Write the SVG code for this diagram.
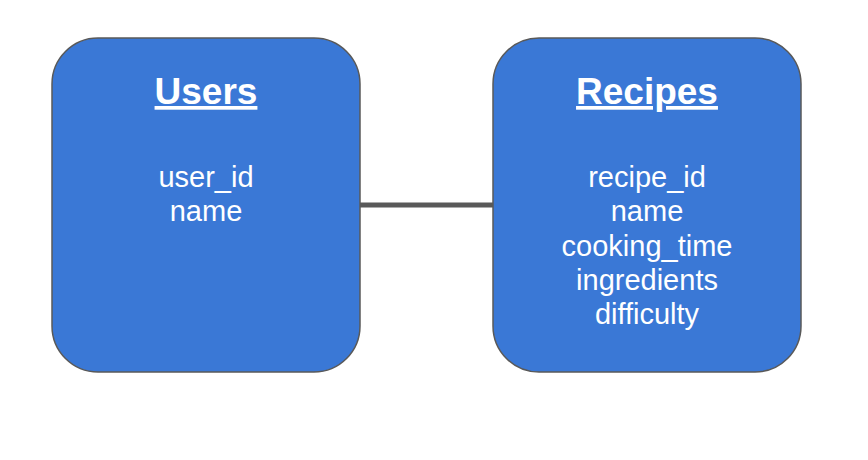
<svg xmlns="http://www.w3.org/2000/svg" width="868" height="460" viewBox="0 0 868 460">
<style>
.box{fill:#3a78d6;stroke:#595959;stroke-width:1.5}
.title{font-family:"Liberation Sans",Arial,sans-serif;font-weight:bold;font-size:37px;fill:#fff;text-anchor:middle;text-decoration:underline}
.attr{font-family:"Liberation Sans",Arial,sans-serif;font-size:29px;fill:#fff;text-anchor:middle}
.conn{stroke:#595959;stroke-width:5;fill:none}
</style>
<rect width="868" height="460" fill="#fff"/>
<g id="connectors">
<line class="conn" x1="360" y1="205" x2="493" y2="205"/>
</g>
<g id="users">
<rect class="box" x="52" y="38" width="308" height="334" rx="46" ry="46"/>
<text class="title" x="206" y="104">Users</text>
<text class="attr" x="206" y="187">user_id</text>
<text class="attr" x="206" y="221">name</text>
</g>
<g id="recipes">
<rect class="box" x="493" y="38" width="308" height="334" rx="46" ry="46"/>
<text class="title" x="647" y="104">Recipes</text>
<text class="attr" x="647" y="187">recipe_id</text>
<text class="attr" x="647" y="221">name</text>
<text class="attr" x="647" y="255.5">cooking_time</text>
<text class="attr" x="647" y="289.5">ingredients</text>
<text class="attr" x="647" y="323.5">difficulty</text>
</g>
</svg>
